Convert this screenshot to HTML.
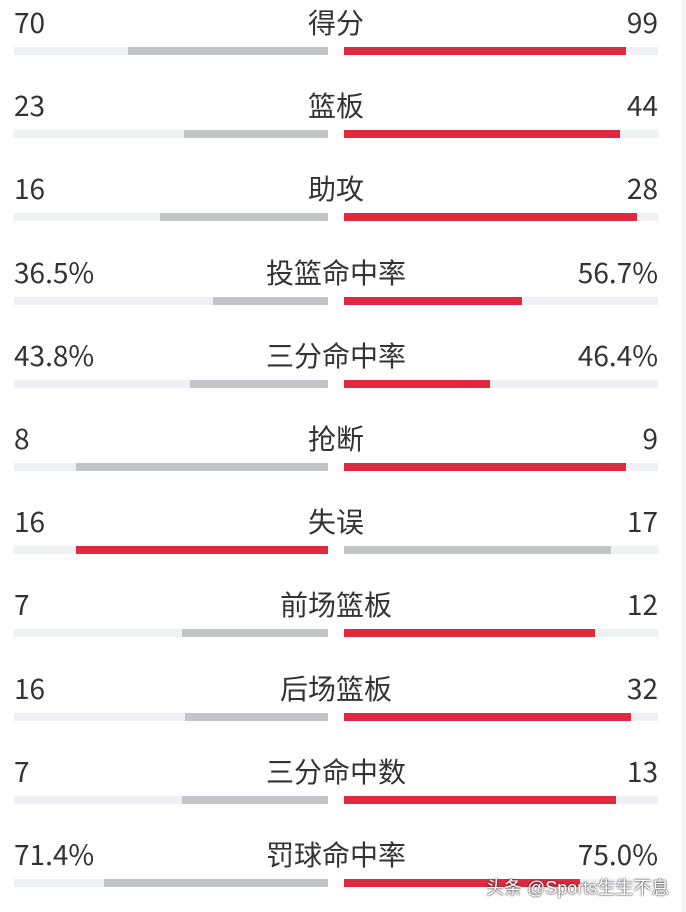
<!DOCTYPE html>
<html><head><meta charset="utf-8"><style>
html,body{margin:0;padding:0;background:#fff;}
#c{position:relative;width:686px;height:912px;overflow:hidden;font-family:"Noto Sans CJK SC","Liberation Sans",sans-serif;color:#333;}
.t{position:absolute;font-size:28px;line-height:30px;white-space:nowrap;}
.b{position:absolute;height:8px;}
#wm{position:absolute;left:486px;top:874px;font-size:18px;color:#fff;text-shadow:0 0 2px #333,0 0 1px #333;white-space:nowrap;font-family:"Liberation Sans","Noto Sans CJK SC",sans-serif;}
#edge{position:absolute;left:681px;top:0;width:5px;height:912px;background:#f3f4f6;}
</style></head><body>
<div id="c">
<div id="edge"></div>
</div>
<script>
const labels=["得分","篮板","助攻","投篮命中率","三分命中率","抢断","失误","前场篮板","后场篮板","三分命中数","罚球命中率"];
const leftValues=["70","23","16","36.5%","43.8%","8","16","7","16","7","71.4%"];
const rightValues=["99","44","28","56.7%","46.4%","9","17","12","32","13","75.0%"];
const leftFrac=[0.637,0.459,0.535,0.365,0.438,0.803,0.803,0.465,0.455,0.465,0.713];
const rightFrac=[0.898,0.879,0.933,0.567,0.464,0.898,0.850,0.800,0.914,0.866,0.750];
const redSide=["R","R","R","R","R","R","L","R","R","R","R"];
const c=document.getElementById('c');
const TRACK=314, LX=14, RX=344, TRK="#eef0f3", GRAY="#c3c4c8", RED="#e0283e";
function rowY(i){return 83.2*i;}
function el(cls,css,txt){const d=document.createElement('div');d.className=cls;d.style.cssText=css;if(txt!==undefined)d.textContent=txt;c.appendChild(d);return d;}
labels.forEach((lab,i)=>{
  const y=rowY(i);
  let d=el('t',`left:14px;top:${y+7}px;`,leftValues[i]);
  
  
  d=el('t',`right:28px;top:${y+7}px;text-align:right;`,rightValues[i]);
  
  
  d=el('t',`left:186px;width:300px;top:${y+7}px;text-align:center;`,lab);
  
  
  d=el('b',`left:${LX}px;width:${TRACK}px;top:${y+47}px;background:${TRK};`);
  
  
  d=el('b',`left:${RX}px;width:${TRACK}px;top:${y+47}px;background:${TRK};`);
  
  
  const lw=leftFrac[i]*TRACK, rw=rightFrac[i]*TRACK;
  d=el('b',`left:${LX+TRACK-lw}px;width:${lw}px;top:${y+47}px;background:${redSide[i]==="L"?RED:GRAY};`);
  
  
  d=el('b',`left:${RX}px;width:${rw}px;top:${y+47}px;background:${redSide[i]==="R"?RED:GRAY};`);
  
  
});
const wm=el('','', '头条 @Sports生生不息');
wm.id='wm';


</script>
</body></html>
